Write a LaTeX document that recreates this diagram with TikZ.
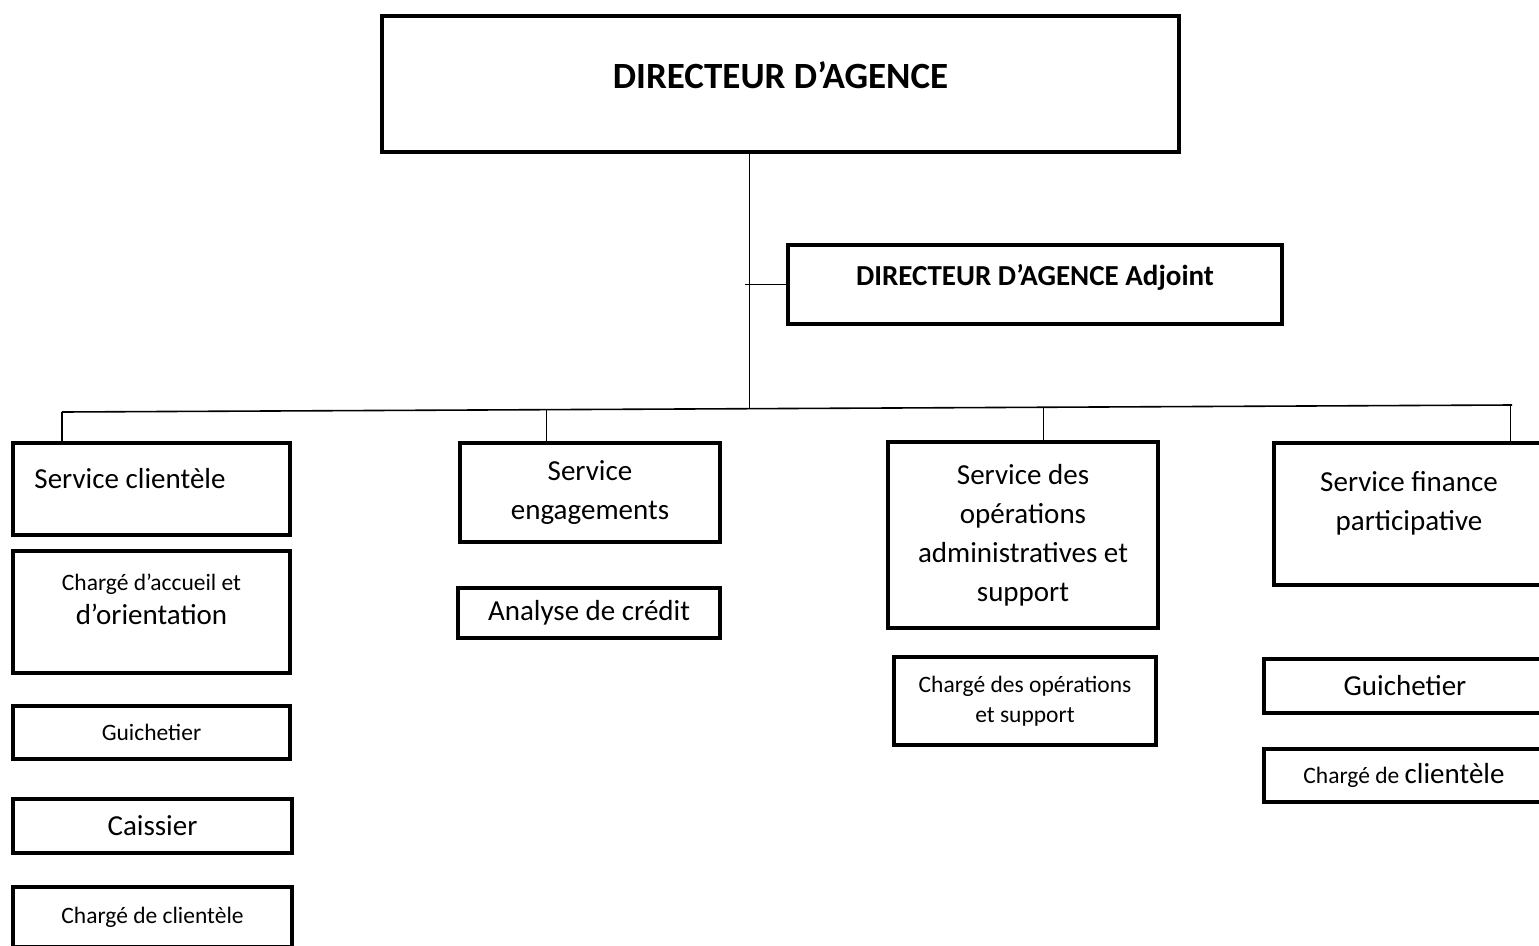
\documentclass[tikz,border=0pt]{standalone}
\usepackage{fontspec}
\setmainfont{Carlito}
\usetikzlibrary{calc}

\newcommand{\gros}{\fontsize{29}{39}\selectfont}
\newcommand{\petit}{\fontsize{23.5}{30}\selectfont}
\newcommand{\titre}{\fontsize{37}{44}\selectfont\bfseries}

\begin{document}
\begin{tikzpicture}[x=1pt,y=-1pt,
    cadre/.style={draw,line width=4pt,rectangle,inner sep=0pt},
    lien/.style={line width=1.6pt},
    gros/.style={font=\gros,align=center,inner sep=0pt},
    petit/.style={font=\petit,align=center,inner sep=0pt}]
  \useasboundingbox (0,0) rectangle (1539,945);
  % direction
  \node[cadre,minimum width=797pt,minimum height=136pt] (dir) at (780.5,84) {};
  \node[font=\titre,inner sep=0pt] (dir-t) at ([yshift=9pt]dir.center) {DIRECTEUR D’AGENCE};
  \node[cadre,minimum width=494pt,minimum height=79pt] (adj) at (1035,284.5) {};
  \node[font=\gros\bfseries,inner sep=0pt] (adj-t) at ([yshift=7.5pt]adj.center) {DIRECTEUR D’AGENCE Adjoint};
  % services
  \node[cadre,minimum width=277pt,minimum height=92pt] (sclient) at (151.5,489) {};
  \node[gros] (sclient-t) at ([xshift=-21.5pt,yshift=10pt]sclient.center) {Service clientèle};
  \node[cadre,gros,minimum width=260pt,minimum height=99pt] (sengag) at (590,492.5) {Service\\engagements};
  \node[cadre,gros,minimum width=270pt,minimum height=186pt] (sops) at (1023,535) {Service des\\opérations\\administratives et\\support};
  \node[cadre,minimum width=270pt,minimum height=142pt] (sfin) at (1409,514) {};
  \node[gros] (sfin-t) at ([yshift=11pt]sfin.center) {Service finance\\participative};
  % postes
  \node[cadre,minimum width=277pt,minimum height=122pt] (accueil) at (151.5,612) {};
  \node[petit] (accueil-t) at ([yshift=13pt]accueil.center) {Chargé d’accueil et\\[4pt]{\gros d’orientation}};
  \node[cadre,petit,minimum width=277pt,minimum height=53pt] (guichet1) at (151.5,732.5) {Guichetier};
  \node[cadre,gros,minimum width=279pt,minimum height=54pt] (caissier) at (152.5,826) {\raisebox{-3pt}{Caissier}};
  \node[cadre,petit,minimum width=279pt,minimum height=60pt] (charge1) at (152.5,917) {Chargé de clientèle};
  \node[cadre,gros,minimum width=262pt,minimum height=50pt] (credit) at (589,613) {\raisebox{-2pt}{Analyse de crédit}};
  \node[cadre,petit,minimum width=262pt,minimum height=88pt] (chops) at (1025,701) {Chargé des opérations\\et support};
  \node[cadre,gros,minimum width=282pt,minimum height=54pt] (guichet2) at (1405,686) {\raisebox{-3pt}{Guichetier}};
  \node[cadre,minimum width=280pt,minimum height=53pt] (charge2) at (1404,775.5) {{\petit Chargé de }{\gros clientèle}};
  % liaisons
  \coordinate (busg) at (62,412);
  \coordinate (busd) at (1512,405);
  \coordinate (tronc) at ($(busg)!0.474!(busd)$);
  \draw[lien] (dir.south -| tronc) -- (tronc);
  \draw[lien] ([xshift=-4pt]adj.west -| tronc) -- (adj.west);
  \draw[lien] (busg) -- (busd);
  \foreach \b/\t in {sclient/0,sengag/0.334,sops/0.677,sfin/0.999}{
    \coordinate (h\b) at ($(busg)!\t!(busd)$);
    \draw[lien] (h\b) -- (h\b |- \b.north);
  }
\end{tikzpicture}
\end{document}
